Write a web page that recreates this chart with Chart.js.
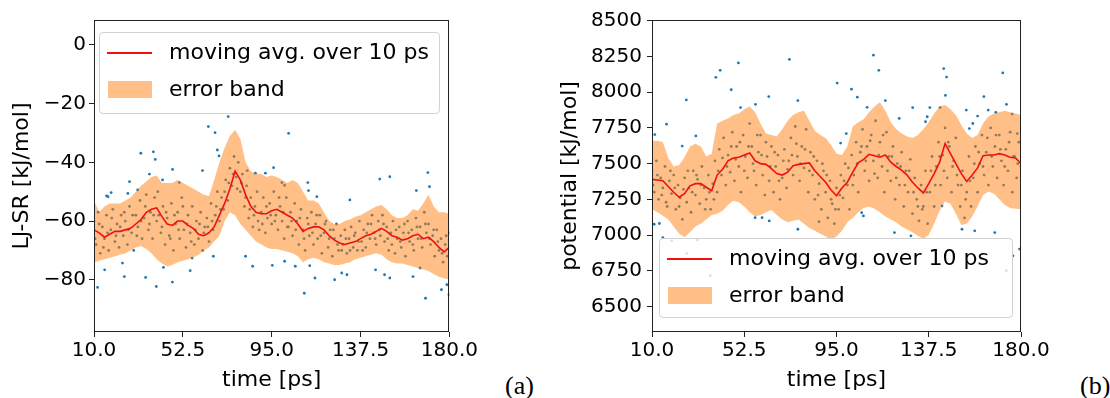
<!DOCTYPE html>
<html>
<head>
<meta charset="utf-8">
<script src="https://cdn.jsdelivr.net/npm/chart.js@4.4.0/dist/chart.umd.min.js"></script>
<style>
  body { margin: 0; width: 1110px; height: 398px; background: #fff; position: relative; overflow: hidden; font-family: "DejaVu Sans", sans-serif; }
  #boxA { position: absolute; left: 0; top: 0; }
  #boxB { position: absolute; left: 540px; top: 0; }
  .legend { position: absolute; box-sizing: border-box; background: rgba(255,255,255,0.8); border: 1px solid #d2d2d2; border-radius: 4px; font-size: 22px; color: #000; }
  .legend .ln { position: absolute; left: 7px; width: 45px; height: 2px; background: #ee1111; }
  .legend .patch { position: absolute; left: 8px; width: 44px; height: 17px; background: rgba(255,127,14,0.5); }
  .legend span { position: absolute; left: 69px; line-height: 26px; white-space: nowrap; }
  .tag { position: absolute; font-family: "Liberation Serif", serif; font-size: 26px; line-height: 26px; color: #000; }
</style>
</head>
<body>
<canvas id="boxA" width="480" height="398"></canvas>
<canvas id="boxB" width="520" height="398"></canvas>

<div class="legend" style="left:99px;top:32px;width:341px;height:82px">
  <div class="ln" style="top:19px"></div><span style="top:6px">moving avg. over 10 ps</span>
  <div class="patch" style="top:48px"></div><span style="top:43px">error band</span>
</div>
<div class="legend" style="left:659px;top:238px;width:354px;height:80px">
  <div class="ln" style="top:19px"></div><span style="top:6px">moving avg. over 10 ps</span>
  <div class="patch" style="top:48px"></div><span style="top:43px">error band</span>
</div>
<div class="tag" style="left:505px;top:373px">(a)</div>
<div class="tag" style="left:1080px;top:373px">(b)</div>

<script>
// time axis
const xTicks = [10, 52.5, 95, 137.5, 180]
const bandT = [10, 12.5, 15, 17.5, 20, 22.5, 25, 27.5, 30, 32.5, 35, 37.5, 40, 42.5, 45, 47.5, 50, 52.5, 55, 57.5,
  60, 62.5, 65, 67.5, 70, 72.5, 75, 77.5, 80, 82.5, 85, 87.5, 90, 92.5, 95, 97.5, 100, 102.5, 105, 107.5,
  110, 112.5, 115, 117.5, 120, 122.5, 125, 127.5, 130, 132.5, 135, 137.5, 140, 142.5, 145, 147.5, 150, 152.5,
  155, 157.5, 160, 162.5, 165, 167.5, 170, 172.5, 175, 177.5, 180]

// (a) LJ-SR
const aTicks = [0, -20, -40, -60, -80]
const aAvg = [-63, -64, -65.5, -64.5, -63.5, -63.5, -63, -62.5, -61, -59.5, -57, -56, -55.5, -58.5, -61, -61.5, -60, -60, -61.5, -62.5,
  -64.5, -65, -64, -62, -58, -54, -49, -43, -46, -51, -55, -57, -57.5, -57.5, -56.5, -56, -57, -58, -59, -61,
  -63.5, -62.5, -62, -62, -63, -65, -66.5, -67.5, -68, -67.5, -67, -66, -65, -64.5, -63.5, -62.5, -63.5, -65,
  -65.5, -66.5, -66, -65, -64.5, -66, -65.5, -67, -69, -70.5, -69]
const aUpper = [-53, -57, -55, -54, -54, -54, -53, -52, -50, -48, -46.5, -45, -44.5, -47, -47, -47, -46, -47, -48, -49,
  -50, -51, -51.5, -46, -40, -35, -31, -29, -32, -40, -43, -44, -44, -45, -44.5, -45, -46, -47, -46, -47,
  -50, -53, -53, -54, -57, -60, -61, -61, -60, -59.5, -58.5, -58, -57, -56, -55, -54.5, -56, -58,
  -59, -59, -58, -56, -56.5, -54, -51, -55, -57, -57, -57.5]
const aLower = [-74, -73.5, -73, -72.5, -72, -71.5, -71, -70, -69, -68.5, -69.5, -71, -73, -74.5, -75.5, -75, -74, -73.5, -73, -72.5,
  -71.5, -70, -69, -67, -65, -60, -57, -58, -61, -63, -65, -67, -68, -69, -69.5, -69.5, -70, -70.5, -71, -72,
  -74, -73, -72.5, -73, -74, -74.5, -75, -75, -74.5, -74, -73, -72.5, -72, -71.5, -71, -71.5, -73, -74,
  -74.5, -74.5, -75, -75.5, -76, -76.5, -77, -78, -79, -79.5, -80]
const aDots = [[10,-60],[11,-68],[12,-57],[13,-71],[14,-62],[15,-66],[16,-58],[17,-70],[18,-63],[19,-56],
  [20,-67],[21,-61],[22,-69],[23,-58],[24,-65],[25,-60],[26,-68],[27,-55],[28,-64],[29,-70],
  [30,-58],[31,-62],[32,-53],[33,-66],[34,-59],[35,-51],[36,-63],[37,-57],[38,-66],[39,-52],
  [40,-60],[41,-58],[42,-64],[43,-55],[44,-68],[45,-59],[46,-65],[47,-54],[48,-70],[49,-61],
  [50,-57],[51,-66],[52,-52],[53,-63],[54,-69],[55,-58],[56,-64],[57,-55],[58,-68],[59,-60],
  [60,-66],[61,-57],[62,-70],[63,-62],[64,-59],[65,-67],[66,-54],[67,-63],[68,-58],[69,-50],
  [70,-60],[71,-52],[72,-56],[73,-46],[74,-53],[75,-42],[76,-48],[77,-38],[78,-45],[79,-40],
  [80,-50],[81,-44],[82,-55],[83,-48],[84,-59],[85,-52],[86,-62],[87,-55],[88,-50],[89,-63],
  [90,-57],[91,-52],[92,-64],[93,-59],[94,-54],[95,-61],[96,-50],[97,-58],[98,-63],[99,-55],
  [100,-60],[101,-66],[102,-52],[103,-62],[104,-57],[105,-65],[106,-54],[107,-60],[108,-68],[109,-56],
  [110,-63],[111,-70],[112,-59],[113,-65],[114,-57],[115,-68],[116,-61],[117,-66],[118,-58],[119,-71],
  [120,-64],[121,-60],[122,-69],[123,-63],[124,-72],[125,-66],[126,-61],[127,-70],[128,-65],[129,-68],
  [130,-63],[131,-71],[132,-66],[133,-62],[134,-69],[135,-64],[136,-70],[137,-60],[138,-67],[139,-63],
  [140,-69],[141,-61],[142,-66],[143,-58],[144,-64],[145,-68],[146,-60],[147,-65],[148,-58],[149,-67],
  [150,-62],[151,-70],[152,-64],[153,-60],[154,-71],[155,-66],[156,-62],[157,-69],[158,-64],[159,-72],
  [160,-60],[161,-67],[162,-63],[163,-70],[164,-59],[165,-66],[166,-62],[167,-69],[168,-57],[169,-64],
  [170,-61],[171,-68],[172,-65],[173,-72],[174,-63],[175,-70],[176,-66],[177,-74],[178,-68],[179,-72],[180,-64],
  [11.7,-82.6],[15.1,-76.6],[24.5,-78.9],[23.6,-74.3],[34.7,-79.2],[39.8,-82.3],[47.5,-80.8],[43.2,-75.8],
  [56,-76.9],[56.9,-72.6],[67.1,-72],[82.5,-72],[85.9,-75.4],[95.3,-75.1],[101.2,-73.7],[106.3,-75.4],
  [110.6,-84.6],[113.2,-75.2],[115.7,-79.4],[125.1,-80],[128.5,-77.7],[131,-78.3],[144.7,-76.6],[149,-78.3],
  [151.5,-79.4],[162.6,-78.9],[166,-76],[168.6,-86.3],[176.2,-83.4],[178.8,-81.7],[179.8,-85.1],
  [74.2,-24.4],[64.7,-27.8],[67.9,-29.9],[103.1,-30.1],[32.4,-36.9],[38.4,-36.4],[39.3,-39],[69,-35.8],
  [69.8,-37.8],[61.9,-42.8],[47.6,-42.4],[27,-46.6],[30.9,-49.4],[36.5,-44],[42.8,-46],[50.8,-46.9],
  [83.3,-42.8],[87.2,-43.7],[92,-43.7],[95.9,-41.8],[99.9,-46.9],[101.2,-47.8],[112.3,-46.9],[112.6,-49.6],
  [146.7,-45.7],[151.5,-44.9],[169.7,-43.5],[170.5,-48.3],[164.2,-49.6],[16.7,-51.7],[18.2,-50.3],[26.2,-50.6],
  [116.6,-51.7],[132.4,-52.8],[16,-51.4]]
const aDots2 = [[10.5,-66],[12.5,-61],[14.5,-69],[16.5,-64],[18.5,-59],[20.5,-65],[22.5,-62],[24.5,-57],[26.5,-63],[28.5,-58],
  [30.5,-65],[32.5,-60],[34.5,-55],[36.5,-61],[38.5,-58],[40.5,-50],[42.5,-62],[44.5,-57],[46.5,-66],[48.5,-58],
  [50.5,-63],[52.5,-55],[54.5,-61],[56.5,-67],[58.5,-63],[60.5,-61],[62.5,-64],[64.5,-62],[66.5,-60],[68.5,-55],
  [70.5,-56],[72.5,-50],[74.5,-47],[76.5,-44],[78.5,-49],[80.5,-47],[82.5,-52],[84.5,-56],[86.5,-58],[88.5,-60],
  [90.5,-61],[92.5,-55],[94.5,-58],[96.5,-60],[98.5,-52],[100.5,-57],[102.5,-62],[104.5,-60],[106.5,-63],[108.5,-59],
  [110.5,-66],[112.5,-61],[114.5,-64],[116.5,-58],[118.5,-65],[120.5,-61],[122.5,-66],[124.5,-63],[126.5,-68],[128.5,-70],
  [130.5,-66],[132.5,-70],[134.5,-65],[136.5,-67],[138.5,-70],[140.5,-64],[142.5,-61],[144.5,-66],[146.5,-63],[148.5,-61],
  [150.5,-66],[152.5,-68],[154.5,-63],[156.5,-67],[158.5,-61],[160.5,-64],[162.5,-68],[164.5,-62],[166.5,-66],[168.5,-61],
  [170.5,-66],[172.5,-63],[174.5,-67],[176.5,-71],[178.5,-65]]

// (b) potential
const bTicks = [6500, 6750, 7000, 7250, 7500, 7750, 8000, 8250, 8500]
const bAvg = [7390, 7385, 7380, 7340, 7300, 7265, 7290, 7345, 7360, 7360, 7335, 7310, 7420, 7460, 7520, 7540, 7545, 7560, 7575, 7520,
  7500, 7495, 7465, 7430, 7420, 7440, 7485, 7495, 7500, 7505, 7450, 7410, 7370, 7315, 7275, 7330, 7370, 7440, 7505, 7530,
  7565, 7555, 7545, 7560, 7510, 7480, 7455, 7420, 7370, 7330, 7295, 7360, 7430, 7510, 7640, 7570, 7500, 7430,
  7375, 7420, 7470, 7555, 7560, 7560, 7570, 7560, 7545, 7540, 7500]
const bUpper = [7660, 7660, 7650, 7540, 7480, 7490, 7545, 7620, 7640, 7620, 7550, 7570, 7780, 7800, 7815, 7840, 7850, 7880, 7900, 7860,
  7780, 7710, 7700, 7690, 7740, 7800, 7840, 7860, 7870, 7800, 7730, 7700, 7680, 7630, 7570, 7560, 7620, 7760, 7790, 7810,
  7860, 7900, 7930, 7870, 7790, 7740, 7710, 7690, 7680, 7700, 7740, 7790, 7850, 7900, 7910, 7880, 7840, 7770,
  7710, 7680, 7700, 7780, 7830, 7850, 7860, 7870, 7860, 7850, 7840]
const bLower = [7180, 7160, 7135, 7110, 7060, 7010, 6985, 7020, 7060, 7080, 7110, 7140, 7150, 7170, 7210, 7240, 7230, 7200, 7160, 7130,
  7140, 7160, 7175, 7140, 7110, 7090, 7100, 7110, 7080, 7050, 7030, 7010, 6990, 6970, 6990, 7030, 7090, 7120, 7160, 7190,
  7200, 7185, 7160, 7130, 7110, 7090, 7060, 7040, 7020, 6995, 6975, 7000, 7080, 7170, 7235, 7220, 7150, 7070,
  7080, 7130, 7200, 7280, 7305, 7290, 7250, 7210, 7190, 7185, 7180]
const bDots = [[10,7450],[11,7300],[12,7520],[13,7250],[14,7400],[15,7330],[16,7480],[17,7200],[18,7380],[19,7290],
  [20,7420],[21,7180],[22,7350],[23,7260],[24,7110],[25,7400],[26,7230],[27,7330],[28,7160],[29,7450],
  [30,7280],[31,7390],[32,7220],[33,7480],[34,7330],[35,7250],[36,7420],[37,7180],[38,7360],[39,7520],
  [40,7300],[41,7600],[42,7420],[43,7680],[44,7350],[45,7560],[46,7440],[47,7720],[48,7380],[49,7620],
  [50,7480],[51,7300],[52,7700],[53,7550],[54,7400],[55,7780],[56,7620],[57,7450],[58,7350],[59,7580],
  [60,7700],[61,7420],[62,7280],[63,7550],[64,7380],[65,7620],[66,7300],[67,7480],[68,7560],[69,7250],
  [70,7400],[71,7600],[72,7330],[73,7520],[74,7680],[75,7420],[76,7760],[77,7550],[78,7380],[79,7620],
  [80,7470],[81,7740],[82,7300],[83,7580],[84,7420],[85,7250],[86,7520],[87,7360],[88,7180],[89,7450],
  [90,7300],[91,7120],[92,7380],[93,7220],[94,7080],[95,7330],[96,7180],[97,7420],[98,7260],[99,7500],
  [100,7350],[101,7180],[102,7560],[103,7420],[104,7650],[105,7300],[106,7580],[107,7740],[108,7450],[109,7620],
  [110,7380],[111,7700],[112,7520],[113,7800],[114,7400],[115,7650],[116,7480],[117,7300],[118,7720],[119,7550],
  [120,7380],[121,7620],[122,7250],[123,7500],[124,7350],[125,7580],[126,7200],[127,7450],[128,7300],[129,7530],
  [130,7150],[131,7400],[132,7250],[133,7100],[134,7350],[135,7200],[136,7450],[137,7080],[138,7300],[139,7550],
  [140,7200],[141,7480],[142,7650],[143,7350],[144,7560],[145,7750],[146,7400],[147,7620],[148,7300],[149,7520],
  [150,7680],[151,7350],[152,7200],[153,7450],[154,7120],[155,7300],[156,7550],[157,7200],[158,7400],[159,7620],
  [160,7300],[161,7500],[162,7700],[163,7420],[164,7580],[165,7350],[166,7750],[167,7480],[168,7620],[169,7400],
  [170,7700],[171,7520],[172,7350],[173,7600],[174,7450],[175,7720],[176,7300],[177,7550],[178,7400],[179,7650],[180,7480],
  [11.3,7703],[16.7,7776],[23.9,7623],[25.8,7946],[30.2,7694],[39.4,8104],[41.4,8153],[46.5,8017],[49.8,8205],
  [50.8,7892],[57.7,7915],[63.8,7969],[73.3,8229],[77.2,7941],[95.3,8064],[96.9,7644],[99.5,7710],[101.9,8021],
  [104.6,7965],[109.1,7894],[112,8259],[114.5,8153],[117.5,7941],[123.9,7816],[130.1,7892],[138,7892],[136.8,7828],
  [136,7793],[142.7,7892],[144.4,8165],[145.7,8106],[145.2,7977],[154.8,7875],[156.2,7745],[157.8,7781],[160,7833],
  [162.9,7969],[164.9,7875],[171.6,8135],[173.3,7915],[175.9,7847],[178.3,7710],[168.4,7859],
  [11,7076],[13.4,7081],[15,6983],[19.1,6960],[26,6872],[31,6965],[36.9,6716],[57.5,7122],[60.7,7122],[64,7099],
  [77.2,7041],[86.9,7094],[94,6839],[106.6,7157],[107.4,7134],[121.7,7018],[129.3,6995],[143.6,7204],[152.8,7041],
  [158.7,7030],[167.9,7018],[176.3,6855],[179.3,6902],[173.3,6751]]
const bDots2 = [[10.5,7350],[12.5,7420],[14.5,7280],[16.5,7230],[18.5,7450],[20.5,7330],[22.5,7200],[24.5,7320],[26.5,7450],[28.5,7300],
  [30.5,7420],[32.5,7350],[34.5,7180],[36.5,7300],[38.5,7250],[40.5,7450],[42.5,7540],[44.5,7480],[46.5,7620],[48.5,7530],
  [50.5,7650],[52.5,7450],[54.5,7620],[56.5,7500],[58.5,7700],[60.5,7560],[62.5,7650],[64.5,7480],[66.5,7580],[68.5,7380],
  [70.5,7520],[72.5,7460],[74.5,7560],[76.5,7640],[78.5,7500],[80.5,7600],[82.5,7450],[84.5,7550],[86.5,7280],[88.5,7500],
  [90.5,7420],[92.5,7250],[94.5,7180],[96.5,7280],[98.5,7380],[100.5,7470],[102.5,7350],[104.5,7500],[106.5,7620],[108.5,7520],
  [110.5,7660],[112.5,7430],[114.5,7560],[116.5,7700],[118.5,7450],[120.5,7550],[122.5,7400],[124.5,7480],[126.5,7350],[128.5,7450],
  [130.5,7300],[132.5,7200],[134.5,7180],[136.5,7300],[138.5,7450],[140.5,7350],[142.5,7550],[144.5,7450],[146.5,7650],[148.5,7480],
  [150.5,7420],[152.5,7350],[154.5,7250],[156.5,7380],[158.5,7500],[160.5,7580],[162.5,7480],[164.5,7680],[166.5,7550],[168.5,7700],
  [170.5,7600],[172.5,7480],[174.5,7650],[176.5,7550],[178.5,7500]]

const tickFont = { family: 'DejaVu Sans', size: 20 }
const titleFont = { family: 'DejaVu Sans', size: 22 }

// box around the plot area, like matplotlib spines
const frame = {
  id: 'frame',
  afterDraw(chart) {
    const a = chart.chartArea
    const ctx = chart.ctx
    ctx.save()
    ctx.strokeStyle = '#222'
    ctx.lineWidth = 1
    ctx.strokeRect(Math.round(a.left) + 0.5, Math.round(a.top) + 0.5, Math.round(a.right - a.left) - 1, Math.round(a.bottom - a.top) - 1)
    ctx.restore()
  }
}

function pts(xs, ys) {
  return xs.map((x, i) => ({ x: x, y: ys[i] }))
}

function makeChart(id, o) {
  const ctx = document.getElementById(id).getContext('2d')
  return new Chart(ctx, {
    type: 'line',
    data: {
      datasets: [
        { type: 'scatter', data: o.dots.map(d => ({ x: d[0], y: d[1] })), pointRadius: 1.4, pointBorderWidth: 0,
          backgroundColor: '#1f77b4', borderColor: '#1f77b4', showLine: false, order: 3 },
        { data: pts(bandT, o.upper), borderColor: 'transparent', borderWidth: 0, pointRadius: 0, fill: false, order: 2 },
        { data: pts(bandT, o.lower), borderColor: 'transparent', borderWidth: 0, pointRadius: 0,
          fill: '-1', backgroundColor: 'rgba(255,127,14,0.5)', order: 2 },
        { data: pts(bandT, o.avg), borderColor: '#ee1111', borderWidth: 1.6, pointRadius: 0, fill: false, order: 1 }
      ]
    },
    options: {
      responsive: false,
      animation: false,
      devicePixelRatio: 1,
      layout: { padding: { left: 0, top: 20, right: o.padRight, bottom: 0 } },
      plugins: { legend: { display: false }, tooltip: { enabled: false } },
      scales: {
        x: {
          type: 'linear', min: 10, max: 180,
          afterBuildTicks: axis => { axis.ticks = xTicks.map(v => ({ value: v })) },
          afterFit: axis => { axis.height = 66 },
          ticks: { font: tickFont, color: '#000', padding: 2, maxRotation: 0, callback: v => v.toFixed(1) },
          grid: { drawOnChartArea: false, drawTicks: true, tickLength: 5, color: '#222' },
          border: { display: false },
          title: { display: true, text: 'time [ps]', font: titleFont, color: '#000', padding: { top: 0, bottom: 5 } }
        },
        y: {
          type: 'linear', min: o.min, max: o.max,
          afterBuildTicks: axis => { axis.ticks = o.ticks.map(v => ({ value: v })) },
          afterFit: axis => { axis.width = o.yWidth },
          ticks: { font: tickFont, color: '#000', padding: o.tickPad,
            callback: v => v < 0 ? '\u2212' + Math.abs(v) : String(v) },
          grid: { drawOnChartArea: false, drawTicks: true, tickLength: 5, color: '#222' },
          border: { display: false },
          title: { display: true, text: o.title, font: titleFont, color: '#000', padding: { top: o.titlePad, bottom: 0 } }
        }
      }
    },
    plugins: [frame]
  })
}

const chartA = makeChart('boxA', {
  dots: aDots.concat(aDots2), upper: aUpper, lower: aLower, avg: aAvg, ticks: aTicks,
  min: -97.8, max: 8.5, yWidth: 94, padRight: 29, tickPad: 3, titlePad: 9, title: 'LJ-SR [kJ/mol]'
})
const chartB = makeChart('boxB', {
  dots: bDots.concat(bDots2), upper: bUpper, lower: bLower, avg: bAvg, ticks: bTicks,
  min: 6322, max: 8505, yWidth: 112, padRight: 39, tickPad: 5, titlePad: 17, title: 'potential [kJ/mol]'
})
</script>
</body>
</html>
